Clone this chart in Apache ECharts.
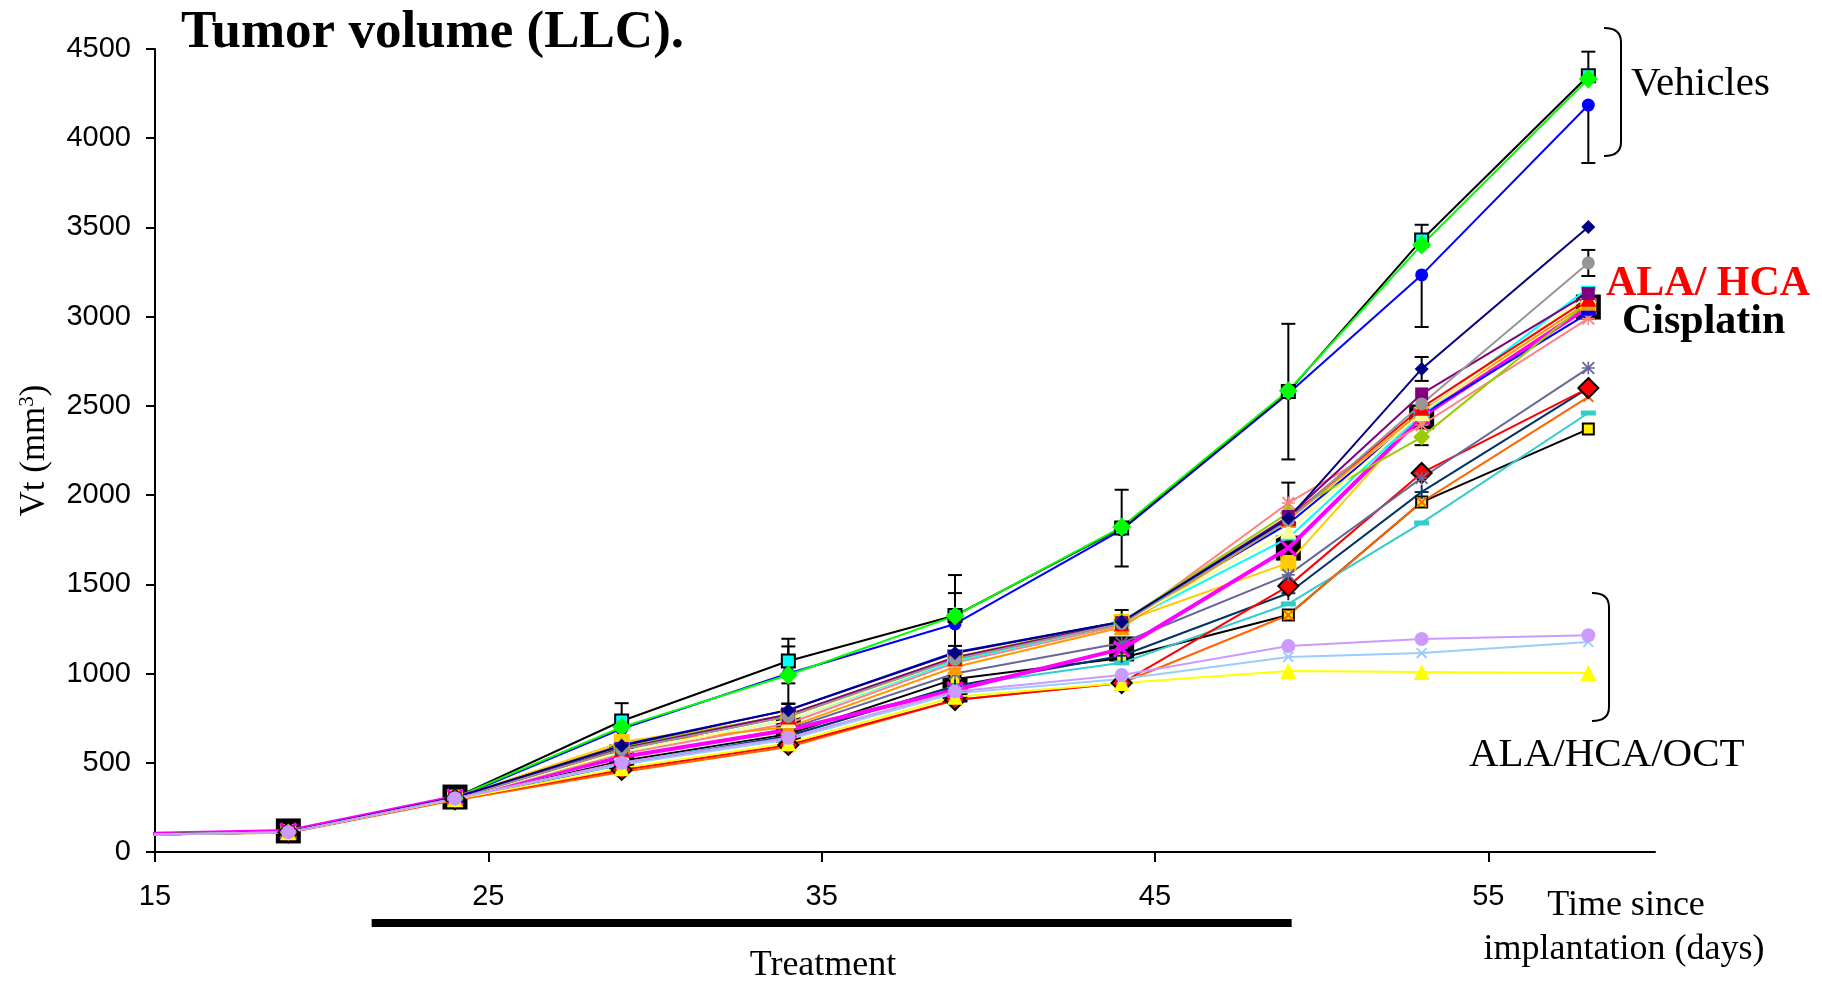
<!DOCTYPE html>
<html>
<head>
<meta charset="utf-8">
<script src="https://cdn.jsdelivr.net/npm/echarts@6/dist/echarts.min.js"></script>
<style>
  html, body { margin: 0; padding: 0; background: #ffffff; }
  #chart { width: 1822px; height: 982px; }
</style>
</head>
<body>
<div id="chart"></div>
<script>
// Measurement days (days since implantation)
const days = [12, 19, 24, 29, 34, 39, 44, 49, 53, 58];
const xTickDays = [15, 25, 35, 45, 55];
const treatmentDays = [21.5, 49.1];

// Tumour volume (mm3) per group, one value per measurement day
// Vehicles
const vehBlack = [90, 112, 305, 734, 1070, 1325, 1815, 2580, 3430, 4350];
const vehGreen = [90, 112, 305, 700, 992, 1323, 1821, 2585, 3402, 4332];
const vehBlue  = [90, 112, 300, 690, 1000, 1278, 1805, 2570, 3234, 4186];
// ALA / HCA and cisplatin arms
const navyDiamond   = [90, 112, 305, 595, 795, 1115, 1290, 1870, 2707, 3502];
const greyCircle    = [90, 112, 300, 575, 760, 1080, 1280, 1860, 2511, 3301];
const purpleSquare  = [90, 112, 300, 580, 770, 1090, 1285, 1880, 2567, 3130];
const redTriangle   = [90, 112, 300, 575, 760, 1085, 1280, 1870, 2490, 3100];
const paleTriangle  = [90, 112, 300, 560, 740, 1080, 1280, 1800, 2460, 3120];
const oliveDiamond  = [90, 112, 300, 590, 770, 1090, 1290, 1900, 2325, 3082];
const blueDash      = [90, 112, 300, 600, 796, 1120, 1290, 1840, 2450, 3020];
const pinkStar      = [90, 112, 300, 550, 720, 1060, 1270, 1956, 2393, 2990];
const cyanDash      = [90, 112, 300, 560, 740, 1070, 1280, 1760, 2450, 3160];
const goldSquare    = [90, 112, 305, 616, 757, 1093, 1289, 1620, 2450, 3060];
const orangeTri     = [90, 112, 300, 600, 700, 1037, 1260, 1860, 2470, 3080];
const cisplatin     = [90, 118, 308, 532, 684, 908, 1138, 1703, 2438, 3054];
const slateStar     = [90, 112, 300, 530, 690, 1000, 1171, 1553, 2096, 2712];
const redDiamond    = [90, 110, 295, 460, 600, 852, 947, 1490, 2124, 2600];
const navyPlus      = [90, 110, 295, 490, 650, 930, 1100, 1450, 2018, 2600];
const orangeCross   = [90, 108, 290, 448, 588, 852, 947, 1328, 1961, 2551];
const tealDash      = [90, 110, 295, 500, 650, 930, 1060, 1390, 1844, 2460];
const yellowSquare  = [90, 110, 295, 510, 660, 970, 1087, 1328, 1961, 2370];
// ALA / HCA / OCT arms
const lilacCircle   = [90, 110, 300, 500, 640, 900, 992, 1154, 1194, 1215];
const skyCross      = [90, 110, 300, 490, 630, 890, 970, 1093, 1115, 1177];
const yellowTri     = [90, 110, 295, 470, 610, 870, 947, 1014, 1009, 1003];

// Error bars: upper and lower extents (0 = that side not drawn)
const upVehBlack   = [0, 0, 0, 100, 125, 227, 215, 380, 85, 135];
const downVehBlack = [0, 0, 0, 100, 125, 227, 215, 380, 0, 0];
const upVehGreen   = [0, 0, 0, 0, 160, 128, 0, 0, 0, 0];
const downVehGreen = [0, 0, 0, 0, 160, 0, 0, 0, 0, 0];
const upVehBlue    = [0, 0, 0, 0, 0, 0, 0, 0, 0, 0];
const downVehBlue  = [0, 0, 0, 0, 0, 0, 0, 0, 292, 325];
const upNavy       = [0, 0, 0, 0, 35, 40, 66, 200, 67, 0];
const downNavy     = [0, 0, 0, 0, 0, 0, 0, 0, 67, 0];
const upGrey       = [0, 0, 0, 0, 0, 0, 0, 0, 0, 73];
const downGrey     = [0, 0, 0, 0, 0, 0, 0, 0, 0, 73];
const upOlive      = [0, 0, 0, 0, 0, 0, 0, 0, 0, 0];
const downOlive    = [0, 0, 0, 0, 0, 0, 0, 0, 45, 0];

// Marker shapes
const PLUS = 'path://M4.3,0h1.4v4.3h4.3v1.4h-4.3v4.3h-1.4v-4.3h-4.3v-1.4h4.3z';
const STAR = 'path://M4.4,0h1.2v10h-1.2z M0,4.4h10v1.2h-10z M0,1L1,0L10,9L9,10z M9,0L10,1L1,10L0,9z';
const DASH = 'path://M0,0h10v3h-10z';

const SERIF = '"Liberation Serif", "Times New Roman", serif';
const SANS = '"Liberation Sans", Arial, sans-serif';

function pairs(values) {
  return days.map((d, i) => [d, values[i]]);
}

function lineSeries(name, values, color, symbol, size, extra) {
  return Object.assign({
    name: name,
    type: 'line',
    data: pairs(values),
    clip: true,
    symbol: symbol,
    symbolSize: size,
    showAllSymbol: true,
    lineStyle: { color: color, width: 2 },
    itemStyle: { color: color },
    emphasis: { disabled: true },
    animation: false
  }, extra || {});
}

function errorBars(values, up, down) {
  const data = [];
  days.forEach((d, i) => {
    if (up[i] > 0 || down[i] > 0) {
      data.push([d, values[i] - down[i], values[i] + up[i], down[i] > 0 ? 1 : 0, up[i] > 0 ? 1 : 0]);
    }
  });
  return {
    type: 'custom',
    data: data,
    z: 1,
    animation: false,
    encode: { x: 0, y: [1, 2] },
    renderItem: function (params, api) {
      const x = api.value(0);
      const lo = api.coord([x, api.value(1)]);
      const hi = api.coord([x, api.value(2)]);
      const w = 7;
      const st = { stroke: '#000', lineWidth: 2 };
      const kids = [{ type: 'line', shape: { x1: lo[0], y1: lo[1], x2: hi[0], y2: hi[1] }, style: st }];
      if (api.value(3)) kids.push({ type: 'line', shape: { x1: lo[0] - w, y1: lo[1], x2: lo[0] + w, y2: lo[1] }, style: st });
      if (api.value(4)) kids.push({ type: 'line', shape: { x1: hi[0] - w, y1: hi[1], x2: hi[0] + w, y2: hi[1] }, style: st });
      return { type: 'group', children: kids };
    }
  };
}

const series = [
  // cisplatin box marker, drawn underneath everything else
  {
    type: 'scatter', data: pairs(cisplatin), symbol: 'rect', symbolSize: 25, z: 1,
    itemStyle: { color: '#000000', opacity: 1 }, clip: true, animation: false, emphasis: { disabled: true }
  },
  errorBars(vehBlack, upVehBlack, downVehBlack),
  errorBars(vehGreen, upVehGreen, downVehGreen),
  errorBars(vehBlue, upVehBlue, downVehBlue),
  errorBars(navyDiamond, upNavy, downNavy),
  errorBars(greyCircle, upGrey, downGrey),
  errorBars(oliveDiamond, upOlive, downOlive),

  lineSeries('vehBlue', vehBlue, '#0000ff', 'circle', 13),
  lineSeries('vehBlack', vehBlack, '#000000', 'rect', 13, { itemStyle: { color: '#00ffff', borderColor: '#000', borderWidth: 2 } }),
  lineSeries('vehGreen', vehGreen, '#00ff00', 'diamond', 19),

  lineSeries('goldSquare', goldSquare, '#ffcc00', 'rect', 16),
  lineSeries('yellowSquare', yellowSquare, '#000000', 'rect', 11, { itemStyle: { color: '#ffee00', borderColor: '#000', borderWidth: 2 } }),
  lineSeries('tealDash', tealDash, '#33cccc', DASH, [15, 5]),
  lineSeries('orangeCross', orangeCross, '#ff6600', PLUS, 14, { symbolRotate: 45 }),
  lineSeries('navyPlus', navyPlus, '#003366', PLUS, 14),
  lineSeries('redDiamond', redDiamond, '#ff0000', 'diamond', 20, { itemStyle: { color: '#ff0000', borderColor: '#000', borderWidth: 2 } }),
  lineSeries('slateStar', slateStar, '#666699', STAR, 13),
  lineSeries('cisplatin', cisplatin, '#ff00ff', PLUS, 22, { symbolRotate: 45, lineStyle: { color: '#ff00ff', width: 4 } }),
  lineSeries('pinkStar', pinkStar, '#ff8080', STAR, 13),
  lineSeries('blueDash', blueDash, '#0000ff', DASH, [15, 5]),
  lineSeries('cyanDash', cyanDash, '#00ffff', DASH, [15, 5]),
  lineSeries('orangeTri', orangeTri, '#ff9900', 'triangle', 16),
  lineSeries('oliveDiamond', oliveDiamond, '#99cc00', 'diamond', 17),
  lineSeries('paleTriangle', paleTriangle, '#ffff99', 'triangle', 16),
  lineSeries('redTriangle', redTriangle, '#ff0000', 'triangle', 16),
  lineSeries('purpleSquare', purpleSquare, '#800080', 'rect', 13),
  lineSeries('greyCircle', greyCircle, '#969696', 'circle', 13),
  lineSeries('navyDiamond', navyDiamond, '#000080', 'diamond', 14),

  lineSeries('yellowTri', yellowTri, '#ffff00', 'triangle', 16),
  lineSeries('skyCross', skyCross, '#99ccff', PLUS, 14, { symbolRotate: 45 }),
  lineSeries('lilacCircle', lilacCircle, '#cc99ff', 'circle', 14)
];

const chart = echarts.init(document.getElementById('chart'), null, { renderer: 'canvas' });

const option = {
  backgroundColor: '#ffffff',
  animation: false,
  grid: { left: 155, top: 49, right: 167, bottom: 130 },
  xAxis: {
    type: 'value',
    min: 15,
    max: 60,
    splitLine: { show: false },
    axisLine: { show: true, lineStyle: { color: '#000', width: 2 } },
    axisTick: { show: true, customValues: xTickDays, length: 10, lineStyle: { color: '#000', width: 2 } },
    axisLabel: { customValues: xTickDays, margin: 30, color: '#000', fontFamily: SANS, fontSize: 29 }
  },
  yAxis: {
    type: 'value',
    min: 0,
    max: 4500,
    interval: 500,
    splitLine: { show: false },
    axisLine: { show: true, lineStyle: { color: '#000', width: 2 } },
    axisTick: { show: true, length: 9, lineStyle: { color: '#000', width: 2 } },
    axisLabel: { margin: 24, color: '#000', fontFamily: SANS, fontSize: 29, formatter: v => String(v) },
    name: 'Vt (mm{sup|3})',
    nameLocation: 'middle',
    nameRotate: 90,
    nameGap: 103,
    nameTextStyle: {
      fontFamily: SERIF, fontSize: 35, color: '#000',
      rich: { sup: { fontFamily: SERIF, fontSize: 21, color: '#000', verticalAlign: 'top', lineHeight: 35 } }
    }
  },
  series: series
};

chart.setOption(option);

function textEl(text, x, y, size, opts) {
  return {
    type: 'text', x: x, y: y, silent: true,
    style: Object.assign({
      text: text, fontFamily: SERIF, fontSize: size, fill: '#000',
      align: 'left', verticalAlign: 'middle'
    }, (opts && opts.style) || {})
  };
}

// right-hand curly bracket made of two quarter curves and a straight spine
function bracket(x0, x1, y0, y1) {
  const r = 14;
  const st = { stroke: '#000', lineWidth: 2, fill: null };
  return {
    type: 'group', silent: true,
    children: [
      { type: 'bezierCurve', shape: { x1: x0, y1: y0, cpx1: x1, cpy1: y0, x2: x1, y2: y0 + r }, style: st },
      { type: 'line', shape: { x1: x1, y1: y0 + r, x2: x1, y2: y1 - r }, style: st },
      { type: 'bezierCurve', shape: { x1: x1, y1: y1 - r, cpx1: x1, cpy1: y1, x2: x0, y2: y1 }, style: st }
    ]
  };
}

const tx0 = chart.convertToPixel({ gridIndex: 0 }, [treatmentDays[0], 0]);
const tx1 = chart.convertToPixel({ gridIndex: 0 }, [treatmentDays[1], 0]);

chart.setOption({
  graphic: [
    textEl('Tumor volume (LLC).', 181, 33, 53, { style: { fontWeight: 'bold' } }),
    textEl('Vehicles', 1631, 84, 41),
    bracket(1604, 1621, 28, 156),
    textEl('ALA/ HCA', 1606, 284, 42, { style: { fontWeight: 'bold', fill: '#ff0000' } }),
    textEl('Cisplatin', 1622, 322, 42, { style: { fontWeight: 'bold' } }),
    bracket(1592, 1609, 593, 721),
    textEl('ALA/HCA/OCT', 1469, 755, 41),
    textEl('Time since', 1626, 906, 36, { style: { align: 'center' } }),
    textEl('implantation (days)', 1624, 950, 36, { style: { align: 'center' } }),
    {
      type: 'rect', silent: true,
      shape: { x: tx0[0], y: 919, width: tx1[0] - tx0[0], height: 8 },
      style: { fill: '#000' }
    },
    textEl('Treatment', 823, 966, 36, { style: { align: 'center' } })
  ]
});
</script>
</body>
</html>
